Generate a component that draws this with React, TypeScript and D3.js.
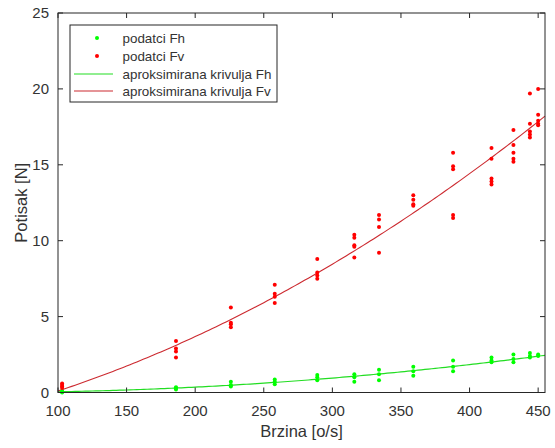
import React from "react";
import * as d3 from "d3";

const speeds = [103, 186, 226, 258, 289, 316, 334, 359, 388, 416, 432, 444, 450];
const fvData = [
  [0.6, 0.5, 0.4, 0.3],
  [3.4, 2.9, 2.7, 2.3],
  [5.6, 4.6, 4.5, 4.3],
  [7.1, 6.5, 6.3, 5.9],
  [8.8, 7.9, 7.7, 7.5],
  [10.4, 10.2, 9.7, 9.6, 8.9],
  [11.7, 11.4, 10.9, 9.2],
  [13.0, 12.7, 12.4, 12.3],
  [15.8, 14.9, 14.7, 11.7, 11.5],
  [16.1, 15.4, 14.1, 13.9, 13.7],
  [17.3, 16.3, 15.8, 15.4, 15.2],
  [19.7, 17.7, 17.2, 17.0, 16.8],
  [20.0, 18.3, 17.9, 17.7, 17.6],
];
const fhData = [
  [0.1, 0.05, 0.0],
  [0.35, 0.3, 0.2],
  [0.7, 0.5, 0.4],
  [0.85, 0.7, 0.55],
  [1.15, 1.0, 0.8],
  [1.2, 1.0, 0.7],
  [1.5, 1.2, 0.8],
  [1.7, 1.4, 1.1],
  [2.1, 1.7, 1.4],
  [2.3, 2.1, 2.0],
  [2.5, 2.2, 2.0],
  [2.6, 2.4, 2.3],
  [2.5, 2.4],
];
// quadratic fit coefficients [a, b, c] : a*x^2 + b*x + c
const fvFit = [5.95e-5, 0.01797, -2.292];
const fhFit = [1.459e-5, -0.001336, 0.0377];

const xTicks = [100, 150, 200, 250, 300, 350, 400, 450];
const yTicks = [0, 5, 10, 15, 20, 25];
const legendLabels = ["podatci Fh", "podatci Fv", "aproksimirana krivulja Fh", "aproksimirana krivulja Fv"];

const W = 555, H = 448;
const L = 58, R = 545, T = 13, B = 392.5;
const FONT = "'Liberation Sans', Arial, Helvetica, sans-serif";
const AX = "#262626";
const TXT = "#333333";
const GREEN = "#00ff00";
const RED = "#ff0000";
const GLINE = "#22dd22";
const RLINE = "#cc2a30";

export default function App() {
  const x = d3.scaleLinear().domain([100, 455]).range([L, R]);
  const y = d3.scaleLinear().domain([0, 25]).range([B, T]);
  const curve = (c: number[]) => {
    const xs = d3.range(100, 455.01, 2.5);
    return d3.line<number>().x((v) => x(v)).y((v) => y(c[0] * v * v + c[1] * v + c[2]))(xs) || "";
  };
  const tk = 5;
  const lg = { x: 70, y: 25, w: 207, h: 77 };
  const rowsY = [38, 56, 74, 91];
  return (
    <svg width={W} height={H} style={{ position: "absolute", left: 0, top: 0, background: "#fff" }} fontFamily={FONT}>
      <rect x={0} y={0} width={W} height={H} fill="#fff" />
      {/* fitted curves */}
      <path d={curve(fhFit)} fill="none" stroke={GLINE} strokeWidth={1.2} />
      <path d={curve(fvFit)} fill="none" stroke={RLINE} strokeWidth={1.1} />
      {/* data points */}
      {fhData.map((arr, i) =>
        arr.map((v, j) => <circle key={`g${i}-${j}`} cx={x(speeds[i])} cy={y(v)} r={2} fill={GREEN} />)
      )}
      {fvData.map((arr, i) =>
        arr.map((v, j) => <circle key={`r${i}-${j}`} cx={x(speeds[i])} cy={y(v)} r={2} fill={RED} />)
      )}
      {/* box */}
      <rect x={L} y={T} width={R - L} height={B - T} fill="none" stroke={AX} strokeWidth={1} />
      {xTicks.map((t) => (
        <g key={`xt${t}`}>
          <line x1={x(t)} x2={x(t)} y1={B} y2={B - tk} stroke={AX} />
          <line x1={x(t)} x2={x(t)} y1={T} y2={T + tk} stroke={AX} />
          <text x={x(t)} y={416} textAnchor="middle" fontSize={15} fill={TXT}>{t}</text>
        </g>
      ))}
      {yTicks.map((t) => (
        <g key={`yt${t}`}>
          <line x1={L} x2={L + tk} y1={y(t)} y2={y(t)} stroke={AX} />
          <line x1={R} x2={R - tk} y1={y(t)} y2={y(t)} stroke={AX} />
          <text x={49} y={y(t) + 5} textAnchor="end" fontSize={15} fill={TXT}>{t}</text>
        </g>
      ))}
      <text x={(L + R) / 2} y={437} textAnchor="middle" fontSize={16.5} fill={TXT}>Brzina [o/s]</text>
      <text transform={`translate(27, ${(T + B) / 2}) rotate(-90)`} textAnchor="middle" fontSize={16.5} fill={TXT}>Potisak [N]</text>
      {/* legend */}
      <rect x={lg.x} y={lg.y} width={lg.w} height={lg.h} fill="#fff" stroke={AX} strokeWidth={1} />
      <circle cx={97} cy={rowsY[0]} r={2} fill={GREEN} />
      <circle cx={97} cy={rowsY[1]} r={2} fill={RED} />
      <line x1={74} x2={113} y1={rowsY[2]} y2={rowsY[2]} stroke={GLINE} strokeWidth={1.2} />
      <line x1={74} x2={113} y1={rowsY[3]} y2={rowsY[3]} stroke={RLINE} strokeWidth={1.1} />
      {legendLabels.map((l, i) => (
        <text key={l} x={122.5} y={rowsY[i] + 4.7} fontSize={13.4} fill={TXT}>{l}</text>
      ))}
    </svg>
  );
}
